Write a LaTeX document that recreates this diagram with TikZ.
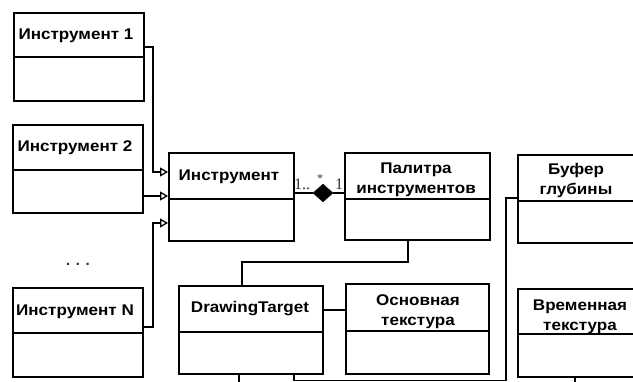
\documentclass[tikz,border=0pt]{standalone}
\usepackage{fontspec}
\setmainfont{Liberation Sans}
\newfontfamily\titlefont[FakeStretch=1.1]{Liberation Sans}
\newfontfamily\labelfont{Liberation Serif}
\usetikzlibrary{arrows.meta,shapes.geometric}
\definecolor{lblcol}{HTML}{303040}
\tikzset{
  classbox/.style={draw=black, line width=2.2pt, rectangle, anchor=north west, inner sep=0pt},
  title/.style={font=\titlefont\bfseries\fontsize{15.5pt}{20pt}\selectfont, align=center, inner sep=0pt},
  divider/.style={draw=black, line width=2pt},
  conn/.style={draw=black, line width=1.7pt},
  gen/.style={conn, -{Triangle[open, length=8pt, width=9pt, line width=1.3pt]}},
  mult/.style={font=\labelfont\fontsize{16pt}{17pt}\selectfont, text=lblcol, inner sep=0pt},
  comp/.style={diamond, fill=black, draw=black, inner sep=0pt, minimum width=20pt, minimum height=18pt},
}
\begin{document}
\begin{tikzpicture}[x=1pt, y=-1pt]
\useasboundingbox (0,0) rectangle (633,382);
\clip (0,0) rectangle (633,382);
% class boxes
\node[classbox, minimum width=130pt, minimum height=88pt] (i1) at (13,12) {};
\node[classbox, minimum width=130pt, minimum height=88pt] (i2) at (12,124) {};
\node[classbox, minimum width=130pt, minimum height=89pt] (iN) at (12,287) {};
\node[classbox, minimum width=125pt, minimum height=88pt] (inst) at (168,152) {};
\node[classbox, minimum width=145pt, minimum height=87pt] (pal) at (344,152) {};
\node[classbox, minimum width=128pt, minimum height=88pt] (buf) at (517,154) {};
\node[classbox, minimum width=144pt, minimum height=88pt] (dt) at (178,285) {};
\node[classbox, minimum width=143pt, minimum height=90pt] (osn) at (345,283) {};
\node[classbox, minimum width=128pt, minimum height=88pt] (vr) at (517,288) {};
% dividers
\draw[divider] (i1.west |- 0,57) -- (i1.east |- 0,57);
\draw[divider] (i2.west |- 0,170) -- (i2.east |- 0,170);
\draw[divider] (iN.west |- 0,333) -- (iN.east |- 0,333);
\draw[divider] (inst.west |- 0,199) -- (inst.east |- 0,199);
\draw[divider] (pal.west |- 0,199) -- (pal.east |- 0,199);
\draw[divider] (buf.west |- 0,201) -- (buf.east |- 0,201);
\draw[divider] (dt.west |- 0,332) -- (dt.east |- 0,332);
\draw[divider] (osn.west |- 0,331) -- (osn.east |- 0,331);
\draw[divider] (vr.west |- 0,334) -- (vr.east |- 0,334);
% titles
\node[title] (ti1) at (76,36) {Инструмент 1};
\node[title] (ti2) at (75,148) {Инструмент 2};
\node[title] (tiN) at (75,312) {Инструмент N};
\node[title] (tinst) at (229,177) {Инструмент};
\node[title] (tpal) at (416,180) {Палитра\\инструментов};
\node[title] (tbuf) at (576,180) {Буфер\\глубины};
\node[title] (tdt) at (250,309) {DrawingTarget};
\node[title] (tosn) at (418,312) {Основная\\текстура};
\node[title] (tvr) at (580,317) {Временная\\текстура};
\node[font=\bfseries\fontsize{15pt}{16pt}\selectfont, text=lblcol, inner sep=0pt] (dots) at (78,264) {. . .};
% generalisations
\draw[gen] (i1.east |- 0,47) -- (153,47) -- (153,172) -- (inst.west |- 0,172);
\draw[gen] (i2.east |- 0,196) -- (inst.west |- 0,196);
\draw[gen] (iN.east |- 0,327) -- (153,327) -- (153,223) -- (inst.west |- 0,223);
% composition
\node[comp] (dia) at (323,193) {};
\draw[conn] (inst.east |- 0,193) -- (dia.west);
\draw[conn] (dia.east) -- (pal.west |- 0,193);
\node[mult, anchor=south west] (m1) at (294,190) {1..};
\node[mult, font=\labelfont\fontsize{12pt}{13pt}\selectfont] (m2) at (320,179) {*};
\node[mult, anchor=south west] (m3) at (335,190) {1};
% other associations
\draw[conn] (pal.south -| 408,0) -- (408,262) -- (242,262) -- (dt.north -| 242,0);
\draw[conn] (dt.east |- 0,310) -- (osn.west |- 0,310);
\draw[conn] (dt.south -| 239,0) -- (239,390);
\draw[conn] (dt.south -| 294,0) -- (294,380.5) -- (506,380.5) -- (506,198) -- (buf.west |- 0,198);
\draw[conn] (vr.south -| 575,0) -- (575,390);
\end{tikzpicture}
\end{document}
